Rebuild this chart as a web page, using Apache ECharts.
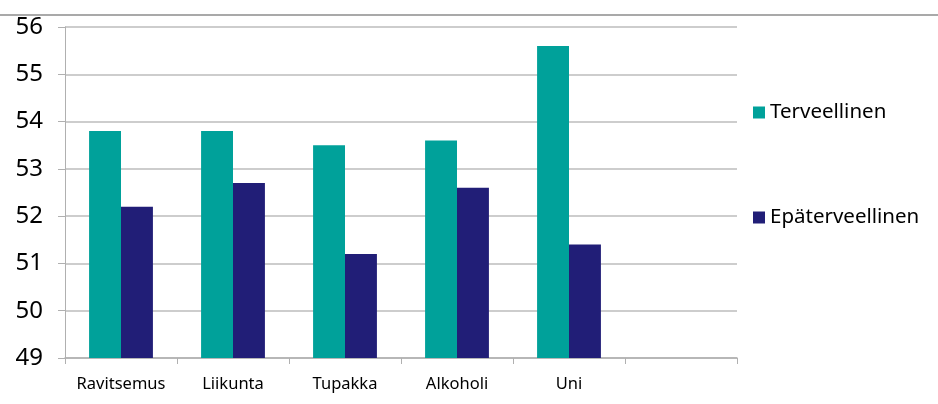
<!DOCTYPE html>
<html><head><meta charset="utf-8">
<script src="https://cdn.jsdelivr.net/npm/echarts@6/dist/echarts.min.js"></script>
<style>html,body{margin:0;padding:0;background:#fff}#c{width:938px;height:404px}</style>
</head><body><div id="c"></div>
<script>
const categories = ['Ravitsemus','Liikunta','Tupakka','Alkoholi','Uni',''];
const terveellinen = [53.8, 53.8, 53.5, 53.6, 55.6, null];
const epaterveellinen = [52.2, 52.7, 51.2, 52.6, 51.4, null];
const yTicks = {min: 49, max: 56, interval: 1};

const chart = echarts.init(document.getElementById('c'), null, {renderer:'canvas'});
const font = 'Noto Sans, Open Sans, sans-serif';
chart.setOption({
  animation:false,
  textStyle:{fontFamily:font},
  graphic:[{type:'line', shape:{x1:0,y1:15,x2:938,y2:15}, style:{stroke:'#8c8c8c', lineWidth:1.5}}],
  grid:{left:65, right:201, top:27, bottom:46},
  legend:{
    orient:'vertical', left:748, top:97, itemGap:84,
    itemWidth:12, itemHeight:12, icon:'rect',
    textStyle:{fontSize:20.5, color:'#000', fontFamily:font, padding:[0,0,0,0]},
    data:['Terveellinen','Epäterveellinen']
  },
  xAxis:{
    type:'category', data:categories,
    axisLine:{lineStyle:{color:'#b0b0b0', width:1.5}},
    axisTick:{show:true, length:6, lineStyle:{color:'#b0b0b0'}},
    axisLabel:{fontSize:16.5, color:'#000', margin:18, interval:0}
  },
  yAxis:{
    type:'value', min:yTicks.min, max:yTicks.max, interval:yTicks.interval,
    axisLine:{show:true, lineStyle:{color:'#b0b0b0', width:1}},
    axisTick:{show:true, length:7, lineStyle:{color:'#b0b0b0'}},
    splitLine:{lineStyle:{color:'#bdbdbd', width:1.5}},
    axisLabel:{fontSize:24, color:'#000', margin:22}
  },
  series:[
    {name:'Terveellinen', type:'bar', data:terveellinen, itemStyle:{color:'#00A19A'}, barGap:'0%', barCategoryGap:'43%'},
    {name:'Epäterveellinen', type:'bar', data:epaterveellinen, itemStyle:{color:'#211E77'}, barGap:'0%', barCategoryGap:'43%'}
  ]
});
</script></body></html>
